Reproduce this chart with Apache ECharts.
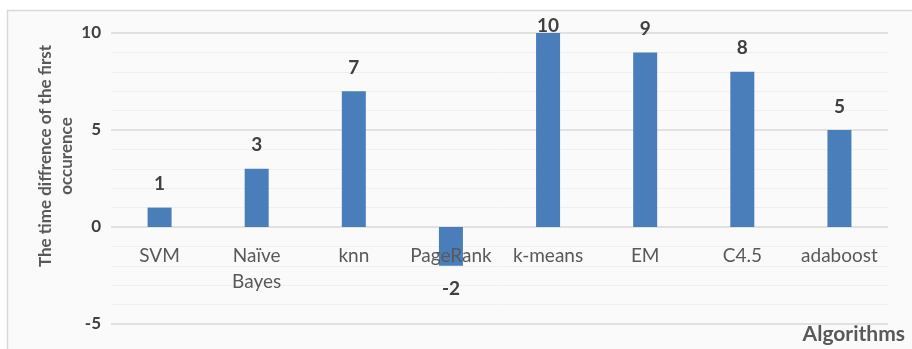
<!DOCTYPE html>
<html>
<head>
<meta charset="utf-8">
<script src="https://cdn.jsdelivr.net/npm/echarts@6/dist/echarts.min.js"></script>
<style>
  html, body { margin: 0; padding: 0; background: #ffffff; }
  #chart { width: 912px; height: 349px; }
</style>
</head>
<body>
<div id="chart"></div>
<script>
// Time difference of the first occurrence, per algorithm
const categories = ['SVM', 'Naïve\nBayes', 'knn', 'PageRank', 'k-means', 'EM', 'C4.5', 'adaboost'];
const values = [1, 3, 7, -2, 10, 9, 8, 5];
const yTicks = [-5, 0, 5, 10];

const FONT = 'Lato';
const yMin = yTicks[0];
const yMax = yTicks[yTicks.length - 1];

const W = 912, H = 349;
const GRID = { left: 111, right: 24, top: 33, bottom: 25 };
const plotHeight = H - GRID.top - GRID.bottom;
// category labels sit along the zero line
const zeroOffset = -plotHeight * (0 - yMin) / (yMax - yMin);

const chart = echarts.init(document.getElementById('chart'));

const barData = values.map(v => {
  const item = { value: v };
  if (v < 0) {
    item.label = { position: 'bottom', distance: 14 };
  } else if (v >= yMax) {
    // keep the label inside the plot area when the bar reaches the top
    item.label = { position: 'top', distance: -2 };
  }
  return item;
});

chart.setOption({
  backgroundColor: '#ffffff',
  animation: false,
  graphic: [
    {
      type: 'rect',
      z: -10,
      shape: { x: 7.5, y: 10.5, width: 940, height: 360 },
      style: { fill: '#fafafa', stroke: '#d9d9d9', lineWidth: 1.5 }
    },
    {
      type: 'text',
      x: 56, y: 156,
      rotation: Math.PI / 2,
      style: {
        text: 'The time diffrence of the first\noccurence',
        font: 'bold 17px ' + FONT,
        fill: '#595959',
        textAlign: 'center',
        textVerticalAlign: 'middle',
        lineHeight: 21
      }
    },
    {
      type: 'text',
      right: 7, top: 324,
      style: {
        text: 'Algorithms',
        font: 'bold 21px ' + FONT,
        fill: '#595959'
      }
    }
  ],
  grid: Object.assign({ containLabel: false, outerBoundsMode: 'none' }, GRID),
  xAxis: {
    type: 'category',
    data: categories,
    offset: zeroOffset,
    z: 5,
    axisLine: { show: false, onZero: false },
    axisTick: { show: false },
    axisLabel: {
      interval: 0,
      color: '#595959',
      fontFamily: FONT,
      fontSize: 19,
      margin: 16,
      lineHeight: 26
    },
    splitLine: { show: false }
  },
  yAxis: {
    type: 'value',
    min: yMin,
    max: yMax,
    interval: 5,
    axisLine: { show: false },
    axisTick: { show: false },
    axisLabel: {
      color: '#404040',
      fontFamily: FONT,
      fontWeight: 'bold',
      fontSize: 17,
      margin: 10
    },
    splitLine: { lineStyle: { color: '#d9d9d9', width: 1.5 } },
    minorTick: { show: false, splitNumber: 5 },
    minorSplitLine: { show: true, lineStyle: { color: '#efefef', width: 1 } }
  },
  series: [{
    type: 'bar',
    data: barData,
    barWidth: 24,
    z: 2,
    itemStyle: { color: '#4a7ebb' },
    label: {
      show: true,
      position: 'top',
      distance: 14,
      color: '#404040',
      fontFamily: FONT,
      fontWeight: 'bold',
      fontSize: 19
    }
  }]
});
</script>
</body>
</html>
